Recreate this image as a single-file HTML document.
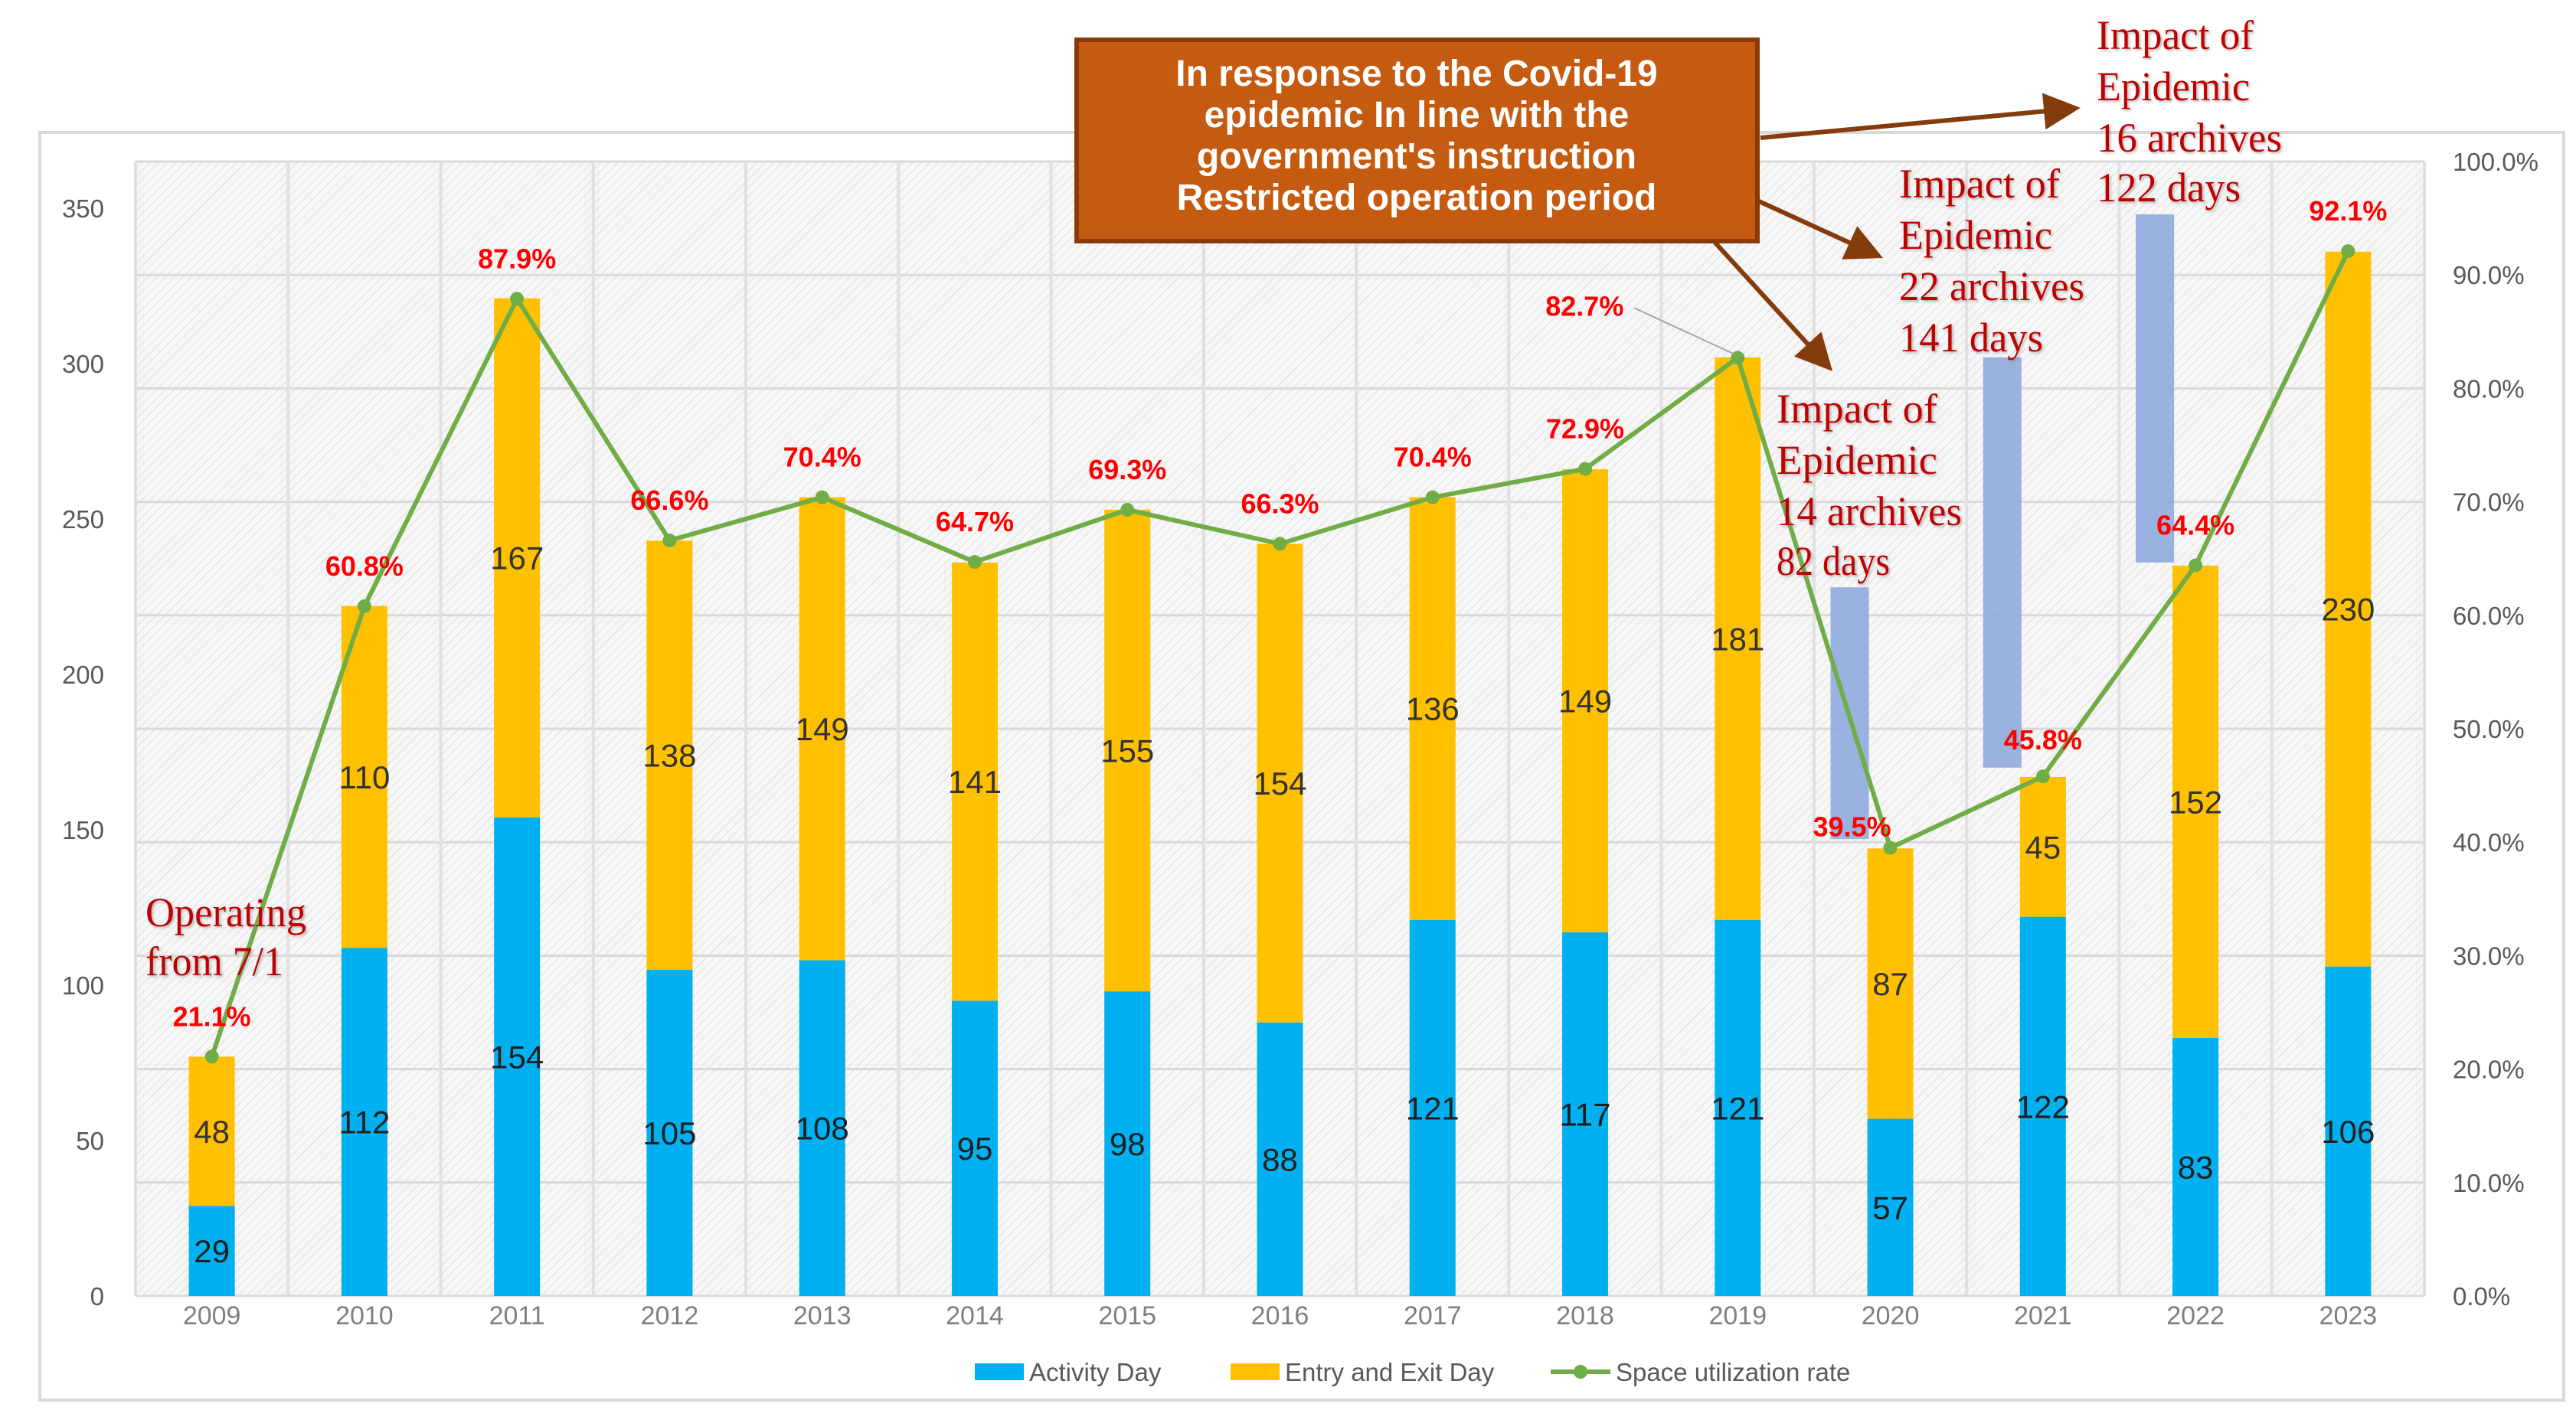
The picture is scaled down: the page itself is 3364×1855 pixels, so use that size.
<!DOCTYPE html>
<html><head><meta charset="utf-8"><style>
html,body{margin:0;padding:0;background:#fff;}
svg{display:block;}
text{font-family:"Liberation Sans",sans-serif;}
.serif{font-family:"Liberation Serif",serif;}
</style></head><body>
<svg id="chart" width="3364" height="1855" viewBox="0 0 3364 1855" xmlns="http://www.w3.org/2000/svg">
<defs>
<pattern id="hatch" width="8" height="8" patternUnits="userSpaceOnUse" patternTransform="rotate(45)">
<rect width="8" height="8" fill="#f7f7f7"/><line x1="0" y1="0" x2="0" y2="8" stroke="#e6e6e6" stroke-width="3"/>
</pattern>
<marker id="arr" markerWidth="8" markerHeight="8" refX="6" refY="4" orient="auto" markerUnits="strokeWidth">
<path d="M0,0 L8,4 L0,8 z" fill="#843c0c"/>
</marker>
<filter id="tsh"><feDropShadow dx="2" dy="2" stdDeviation="1.5" flood-color="#888" flood-opacity="0.6"/></filter>
</defs>
<rect x="52" y="173" width="3296" height="1656" fill="#fff" stroke="#d9d9d9" stroke-width="4"/>
<rect x="177" y="211" width="2989" height="1482" fill="url(#hatch)"/>
<g id="grid"></g>
<g id="axes"></g>
<g id="bars"></g>
<g id="impact"></g>
<g id="line"></g>
<g id="labels"></g>

<g>
<rect x="1406" y="52" width="889" height="263" fill="#c55a11" stroke="#8a3a0a" stroke-width="6"/>
<text x="1850" y="112" text-anchor="middle" font-size="48" font-weight="bold" fill="#fff">In response to the Covid-19</text>
<text x="1850" y="166" text-anchor="middle" font-size="48" font-weight="bold" fill="#fff">epidemic In line with the</text>
<text x="1850" y="220" text-anchor="middle" font-size="48" font-weight="bold" fill="#fff">government's instruction</text>
<text x="1850" y="274" text-anchor="middle" font-size="48" font-weight="bold" fill="#fff">Restricted operation period</text>
</g>
<g stroke="#843c0c" stroke-width="6" fill="none">
<line x1="2299" y1="180" x2="2705" y2="142" marker-end="url(#arr)"/>
<line x1="2295" y1="262" x2="2448" y2="332" marker-end="url(#arr)"/>
<line x1="2238" y1="315" x2="2385" y2="476" marker-end="url(#arr)"/>
</g>
<g class="serif" fill="#c00000" font-size="54" filter="url(#tsh)">
<text class="serif" x="2320" y="552" textLength="210" lengthAdjust="spacingAndGlyphs">Impact of</text>
<text class="serif" x="2320" y="619" textLength="210" lengthAdjust="spacingAndGlyphs">Epidemic</text>
<text class="serif" x="2320" y="686" textLength="242" lengthAdjust="spacingAndGlyphs">14 archives</text>
<text class="serif" x="2320" y="751" textLength="148" lengthAdjust="spacingAndGlyphs">82 days</text>
<text class="serif" x="2480" y="258" textLength="210" lengthAdjust="spacingAndGlyphs">Impact of</text>
<text class="serif" x="2480" y="325" textLength="200" lengthAdjust="spacingAndGlyphs">Epidemic</text>
<text class="serif" x="2480" y="392" textLength="242" lengthAdjust="spacingAndGlyphs">22 archives</text>
<text class="serif" x="2480" y="459" textLength="188" lengthAdjust="spacingAndGlyphs">141 days</text>
<text class="serif" x="2738" y="64" textLength="205" lengthAdjust="spacingAndGlyphs">Impact of</text>
<text class="serif" x="2738" y="131" textLength="200" lengthAdjust="spacingAndGlyphs">Epidemic</text>
<text class="serif" x="2738" y="198" textLength="242" lengthAdjust="spacingAndGlyphs">16 archives</text>
<text class="serif" x="2738" y="263" textLength="188" lengthAdjust="spacingAndGlyphs">122 days</text>
<text class="serif" x="190" y="1210" textLength="210" lengthAdjust="spacingAndGlyphs">Operating</text>
<text class="serif" x="190" y="1274" textLength="180" lengthAdjust="spacingAndGlyphs">from 7/1</text>
</g>

<g>
<rect x="1273" y="1781" width="64" height="22" fill="#00b0f0"/>
<text x="1344" y="1804" font-size="33" fill="#595959">Activity Day</text>
<rect x="1607" y="1781" width="64" height="22" fill="#ffc000"/>
<text x="1678" y="1804" font-size="33" fill="#595959">Entry and Exit Day</text>
<line x1="2025" y1="1792" x2="2103" y2="1792" stroke="#70ad47" stroke-width="6"/>
<circle cx="2064" cy="1792" r="9" fill="#70ad47"/>
<text x="2110" y="1804" font-size="33" fill="#595959">Space utilization rate</text>
</g>
</svg>
<script>
const years = ["2009","2010","2011","2012","2013","2014","2015","2016","2017","2018","2019","2020","2021","2022","2023"];
const activityDays = [29,112,154,105,108,95,98,88,121,117,121,57,122,83,106];
const entryExitDays = [48,110,167,138,149,141,155,154,136,149,181,87,45,152,230];
const utilizationRate = [21.1,60.8,87.9,66.6,70.4,64.7,69.3,66.3,70.4,72.9,82.7,39.5,45.8,64.4,92.1];
const rateLabels = ["21.1%","60.8%","87.9%","66.6%","70.4%","64.7%","69.3%","66.3%","70.4%","72.9%","82.7%","39.5%","45.8%","64.4%","92.1%"];
const leftTicks = [0,50,100,150,200,250,300,350];
const rightTicks = [0,10,20,30,40,50,60,70,80,90,100];
const impactYears = ["2020","2021","2022"];
const impactLow = [147,170,236];
const impactHigh = [228,302,348];

const NS="http://www.w3.org/2000/svg";
const L=177,R=3166,T=211,B=1693,LMAX=365;
const cw=(R-L)/years.length;
const xc=i=>L+cw*(i+0.5);
const yL=v=>B-v/LMAX*(B-T);
const yR=p=>B-p/100*(B-T);
function mk(tag,attrs,parent,txt){const e=document.createElementNS(NS,tag);for(const k in attrs)e.setAttribute(k,attrs[k]);if(txt!==undefined)e.textContent=txt;parent.appendChild(e);return e;}
const grid=document.getElementById('grid'),axes=document.getElementById('axes'),bars=document.getElementById('bars'),imp=document.getElementById('impact'),line=document.getElementById('line'),labels=document.getElementById('labels');

rightTicks.forEach(p=>{
  const g=mk('line',{x1:L,x2:R,y1:yR(p),y2:yR(p),stroke:'#d9d9d9','stroke-width':3},grid);
  
  
  const t=mk('text',{x:3203,y:yR(p)+12,'font-size':33,fill:'#595959'},axes,p.toFixed(1)+'%');
  
  
});
for(let i=0;i<=years.length;i++){
  const g=mk('line',{x1:L+cw*i,x2:L+cw*i,y1:T,y2:B,stroke:'#e0e0e0','stroke-width':4},grid);
  
  
}
leftTicks.forEach(v=>{
  const t=mk('text',{x:136,y:yL(v)+12,'font-size':33,fill:'#595959','text-anchor':'end'},axes,String(v));
  
  
});
const ax=mk('line',{x1:L,x2:R,y1:B,y2:B,stroke:'#d9d9d9','stroke-width':3},axes);



const bw=60;
years.forEach((y,i)=>{
  const x=xc(i)-bw/2;
  const a=activityDays[i],e=entryExitDays[i];
  const r1=mk('rect',{x:x,width:bw,y:yL(a),height:B-yL(a),fill:'#00b0f0'},bars);
  
  
  const r2=mk('rect',{x:x,width:bw,y:yL(a+e),height:yL(a)-yL(a+e),fill:'#ffc000'},bars);
  
  
  const t1=mk('text',{x:xc(i),y:(yL(a)+B)/2+15,'font-size':42,fill:'#1f1f1f','text-anchor':'middle'},labels,String(a));
  
  
  const t2=mk('text',{x:xc(i),y:(yL(a)+yL(a+e))/2+15,'font-size':42,fill:'#333','text-anchor':'middle'},labels,String(e));
  
  
  const xl=mk('text',{x:xc(i),y:1730,'font-size':34,fill:'#7f7f7f','text-anchor':'middle'},axes,y);
  
  
});

impactYears.forEach((y,k)=>{
  const i=years.indexOf(y);
  const r=mk('rect',{x:xc(i)-53-25,width:50,y:yL(impactHigh[k]),height:yL(impactLow[k])-yL(impactHigh[k]),fill:'#8eaadb',opacity:0.9},imp);
  
  
});

const pts=utilizationRate.map((p,i)=>xc(i)+','+yR(p)).join(' ');
const pl=mk('polyline',{points:pts,fill:'none',stroke:'#70ad47','stroke-width':6,'stroke-linejoin':'round'},line);


utilizationRate.forEach((p,i)=>{
  const c=mk('circle',{cx:xc(i),cy:yR(p),r:9,fill:'#70ad47'},line);
  
  
  let lx=xc(i),ly=yR(p)-40;
  if(years[i]==="2019"){lx=xc(i)-200;ly=yR(p)-55;
    const ld=mk('line',{x1:lx+65,y1:ly-10,x2:xc(i)-5,y2:yR(p)-5,stroke:'#a6a6a6','stroke-width':2},line);
    
    }
  if(years[i]==="2020"){lx=xc(i)-50;ly=yR(p)-15;}
  if(years[i]==="2021"){ly=yR(p)-35;}
  const t=mk('text',{x:lx,y:ly,'font-size':36,'font-weight':'bold',fill:'#ff0000','text-anchor':'middle'},labels,rateLabels[i]);
  
  
});
</script>
</body></html>
